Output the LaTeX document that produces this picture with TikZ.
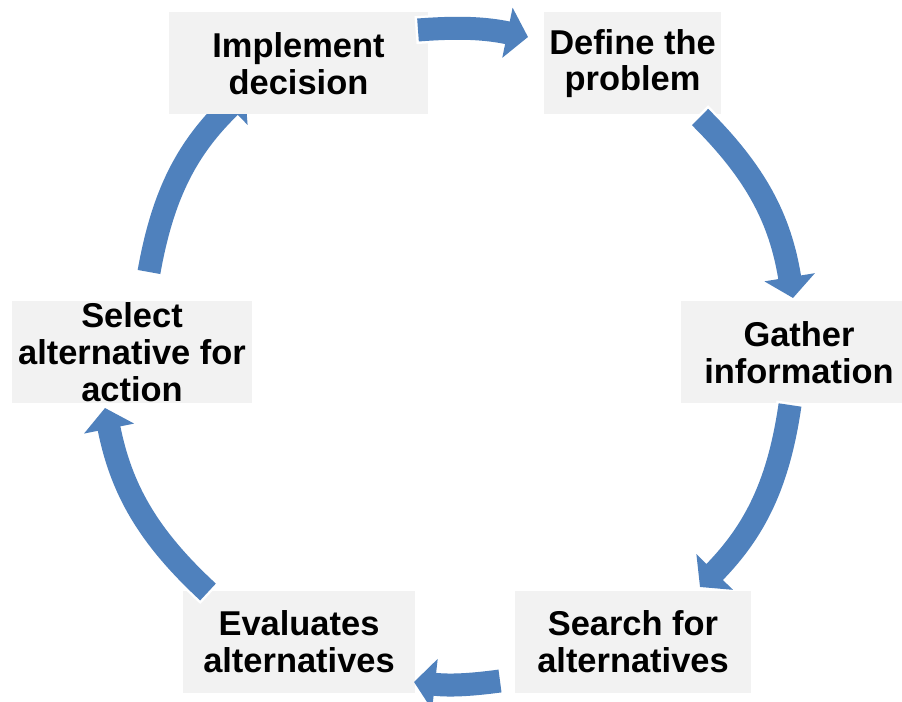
\documentclass[tikz,border=0pt]{standalone}
\usepackage{fontspec}
\setmainfont{Liberation Sans}
\usepackage{tikz}
\usepackage{xcolor}
\usetikzlibrary{arrows.meta,positioning}
\definecolor{boxgrey}{HTML}{F2F2F2}
\definecolor{arrowblue}{HTML}{4F81BD}
\tikzset{
  stagebox/.style={fill=boxgrey,draw=none,align=center,inner sep=0pt,
                   minimum height=2.04cm,
                   font=\fontsize{19.6}{20.9}\selectfont\bfseries},
  cyclearr/.style={draw=arrowblue,line width=0.46cm,
                   -{Triangle[length=0.42cm,width=1.0cm]},
                   preaction={draw=white,line width=0.56cm,shorten <=-0.05cm,
                              -{Triangle[length=0.48cm,width=1.14cm]}}}
}

\begin{document}
\begin{tikzpicture}[x=1cm,y=1cm]
    \path[use as bounding box] (0,0) rectangle (18.04,-14.04);
    % ends of the curved arrows
    \coordinate (out-impl) at (8.36,-0.60);
    \coordinate (in-defn)  at (10.56,-0.74);
    \coordinate (out-defn) at (14.00,-2.34);
    \coordinate (in-gath)  at (15.86,-5.96);
    \coordinate (out-gath) at (15.80,-8.10);
    \coordinate (in-srch)  at (14.00,-11.74);
    \coordinate (out-srch) at (10.00,-13.62);
    \coordinate (in-eval)  at (8.28,-13.64);
    \coordinate (out-eval) at (4.16,-11.84);
    \coordinate (in-sel)   at (2.10,-8.16);
    \coordinate (out-sel)  at (2.98,-5.44);
    \coordinate (in-impl)  at (4.90,-1.84);
    \node[stagebox,minimum width=3.54cm] (defn) at (12.65,-1.27)
      {Define the\\problem};
    % runs past the right edge of the page
    \node[stagebox,minimum width=4.72cm] (gath) at (15.98,-7.05)
      {Gather\\information};
    \node[stagebox,minimum width=4.72cm] (srch) at (12.66,-12.83)
      {Search for\\alternatives};
    \node[stagebox,minimum width=4.64cm] (eval) at (5.98,-12.83)
      {Evaluates\\alternatives};
    \node[stagebox,minimum width=4.80cm] (sel) at (2.64,-7.04)
      {Select\\alternative for\\action};
    % this one runs under the last box
    \draw[cyclearr] (out-sel) to[bend left=18] (in-impl);
    \node[stagebox,minimum width=5.18cm] (impl) at (5.97,-1.27)
      {Implement\\decision};
    \draw[cyclearr] (out-impl) to[bend left=8] (in-defn);
    \draw[cyclearr] (out-defn) to[bend left=18] (in-gath);
    \draw[cyclearr] (out-gath) to[bend left=18] (in-srch);
    \draw[cyclearr] (out-srch) to[bend left=7] (in-eval);
    \draw[cyclearr] (out-eval) to[bend left=18] (in-sel);
  \end{tikzpicture}
\end{document}
